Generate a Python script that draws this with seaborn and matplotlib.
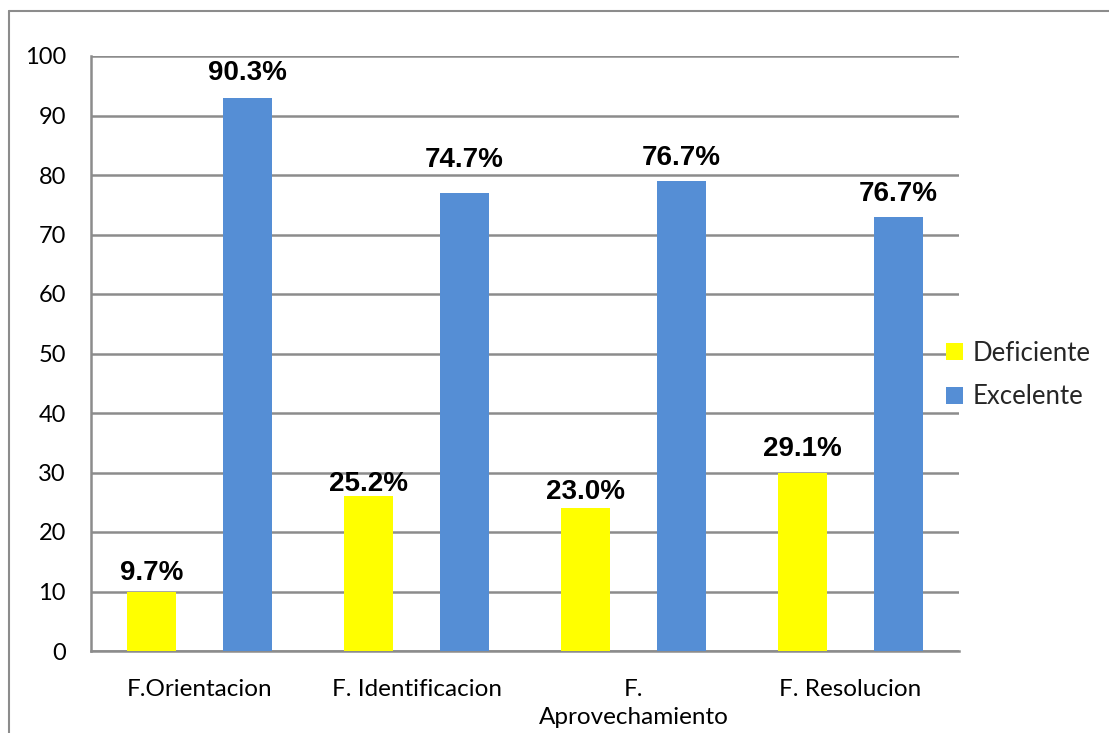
import matplotlib
matplotlib.use("Agg")
import matplotlib.pyplot as plt
from matplotlib.patches import Patch
from matplotlib.lines import Line2D
import seaborn as sns
import pandas as pd

categories = ["F.Orientacion", "F. Identificacion", "F.\nAprovechamiento", "F. Resolucion"]
series_names = ["Deficiente", "Excelente"]
deficiente = [10, 26, 24, 30]
excelente = [93, 77, 79, 73]
deficiente_labels = ["9.7%", "25.2%", "23.0%", "29.1%"]
excelente_labels = ["90.3%", "74.7%", "76.7%", "76.7%"]
y_ticks = [0, 10, 20, 30, 40, 50, 60, 70, 80, 90, 100]

colors = {"Deficiente": "#FFFF00", "Excelente": "#558ED5"}
label_gap_px = {"Deficiente": [6, -1, 3, 10], "Excelente": [12, 20, 10, 10]}

df = pd.DataFrame({
    "cat": categories * 2,
    "serie": ["Deficiente"] * 4 + ["Excelente"] * 4,
    "valor": deficiente + excelente,
})

sns.set_style("white")
plt.rcParams["font.family"] = ["Lato", "DejaVu Sans"]

W, H = 1109, 733
fig = plt.figure(figsize=(W / 100, H / 100), dpi=100)
ax = fig.add_axes([91 / W, 1 - 651 / H, (959 - 91) / W, (651 - 56) / H])

sns.barplot(data=df, x="cat", y="valor", hue="serie", order=categories,
            hue_order=series_names, palette=colors, width=0.888, gap=0.486,
            legend=False, ax=ax, zorder=3, linewidth=0, saturation=1)

ax.set_xlim(-0.5, 3.5)
ax.set_ylim(0, 100)
ax.set_yticks(y_ticks)
ax.set_xlabel("")
ax.set_ylabel("")
ax.yaxis.grid(True, color="#8c8c8c", linewidth=1.8, zorder=0)
ax.set_axisbelow(True)
for s in ["top", "right"]:
    ax.spines[s].set_visible(False)
for s in ["left", "bottom"]:
    ax.spines[s].set_color("#8c8c8c")
    ax.spines[s].set_linewidth(1.8)
ax.tick_params(axis="y", length=0, pad=18, labelsize=17, labelcolor="black")
ax.tick_params(axis="x", length=0, pad=20, labelsize=17.5, labelcolor="black")
for lbl in ax.get_xticklabels():
    lbl.set_linespacing(1.45)

# value labels
for container, name, texts in zip(ax.containers, series_names,
                                  [deficiente_labels, excelente_labels]):
    for i, (bar, t) in enumerate(zip(container, texts)):
        gap_pt = label_gap_px[name][i] * 72 / 100
        ax.annotate(t, (bar.get_x() + bar.get_width() / 2, bar.get_height()),
                    xytext=(0, gap_pt), textcoords="offset points",
                    ha="center", va="bottom", fontsize=20, fontweight="bold",
                    family=["Liberation Sans", "DejaVu Sans"], color="black",
                    zorder=5)

handles = [Patch(facecolor=colors[n], edgecolor="none", label=n) for n in series_names]
fig.legend(handles=handles, loc="center left", bbox_to_anchor=(946 / W, 1 - 375 / H),
           frameon=False, fontsize=18.5, handlelength=0.66, handleheight=0.66,
           handletextpad=0.38, labelspacing=0.72, borderpad=0, borderaxespad=0)

# outer frame
fig.add_artist(Line2D([9 / W, 1.0], [1 - 11 / H, 1 - 11 / H], transform=fig.transFigure,
                      color="#8c8c8c", linewidth=1.5))
fig.add_artist(Line2D([9 / W, 9 / W], [1 - 11 / H, 0.0], transform=fig.transFigure,
                      color="#8c8c8c", linewidth=1.5))

fig.savefig("out.png", dpi=100, facecolor="white")
